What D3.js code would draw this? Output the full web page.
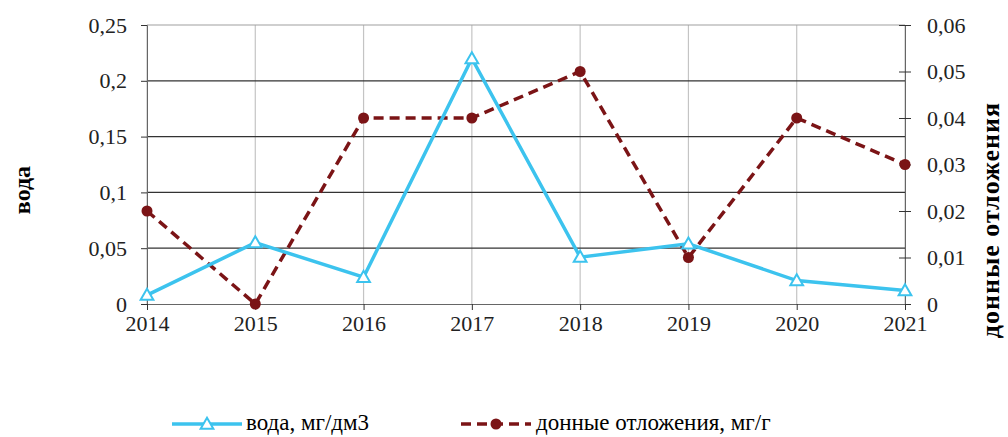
<!DOCTYPE html>
<html>
<head>
<meta charset="utf-8">
<script src="https://cdn.jsdelivr.net/npm/d3@7"></script>
<style>
  body { margin: 0; background: #fff; }
  svg { display: block; }
  svg, svg text { font-family: "Liberation Serif", "Times New Roman", serif; }
</style>
</head>
<body>
<svg id="chart" width="1008" height="437"></svg>
<script>
const years = [2014, 2015, 2016, 2017, 2018, 2019, 2020, 2021];
const water = [0.008, 0.055, 0.024, 0.22, 0.042, 0.054, 0.021, 0.012];
const sediment = [0.02, 0, 0.04, 0.04, 0.05, 0.01, 0.04, 0.03];
const leftTicks = [0, 0.05, 0.1, 0.15, 0.2, 0.25];
const rightTicks = [0, 0.01, 0.02, 0.03, 0.04, 0.05, 0.06];
const waterLabel = 'вода, мг/дм3';
const sedimentLabel = 'донные отложения, мг/г';

const waterColor = '#3cc3ee';
const sedColor = '#7b1416';

const svg = d3.select('#chart');
const m = { left: 147, right: 905, top: 25, bottom: 304 };

const x = d3.scalePoint().domain(years).range([m.left, m.right]);
const yL = d3.scaleLinear().domain([0, 0.25]).range([m.bottom, m.top]);
const yR = d3.scaleLinear().domain([0, 0.06]).range([m.bottom, m.top]);
const fmt = d => d === 0 ? '0' : String(d).replace('.', ',');

// vertical gridlines
svg.append('g').selectAll('line').data(years).join('line')
  .attr('x1', d => x(d)).attr('x2', d => x(d))
  .attr('y1', m.top).attr('y2', m.bottom)
  .attr('stroke', '#c4c4c4').attr('stroke-width', 1.2);

// horizontal gridlines
svg.append('g').selectAll('line').data(leftTicks.slice(1)).join('line')
  .attr('x1', m.left).attr('x2', m.right)
  .attr('y1', d => yL(d)).attr('y2', d => yL(d))
  .attr('stroke', d => d === 0.25 ? '#a0a0a0' : '#333').attr('stroke-width', 1.2);

function styleAxis(g) {
  g.attr('font-family', null).attr('font-size', 22);
  g.select('.domain').attr('stroke', '#666');
  g.selectAll('.tick line').attr('stroke', '#333');
  g.selectAll('text').attr('fill', '#222');
}

// left axis
svg.append('g').attr('transform', `translate(${m.left},0)`)
  .call(d3.axisLeft(yL).tickValues(leftTicks).tickSize(6).tickPadding(14).tickFormat(fmt))
  .call(styleAxis);

// right axis
const gr = svg.append('g').attr('transform', `translate(${m.right},0)`)
  .call(d3.axisRight(yR).tickValues(rightTicks).tickSize(6).tickPadding(16).tickFormat(fmt))
  .call(styleAxis);
gr.selectAll('.tick line').attr('x1', -6);

// bottom axis
svg.append('g').attr('transform', `translate(0,${m.bottom})`)
  .call(d3.axisBottom(x).tickSize(6).tickPadding(5).tickFormat(d => d))
  .call(styleAxis);

// axis titles
svg.append('text').attr('transform', 'translate(30,190) rotate(-90)')
  .attr('text-anchor', 'middle').attr('font-size', 24).attr('font-weight', 'bold')
  .text('вода');
svg.append('text').attr('transform', 'translate(999,220) rotate(-90)')
  .attr('text-anchor', 'middle').attr('font-size', 26).attr('font-weight', 'bold')
  .attr('letter-spacing', 1)
  .text('донные отложения');

// sediment line
svg.append('path').datum(years.map((y, i) => [y, sediment[i]]))
  .attr('fill', 'none').attr('stroke', sedColor).attr('stroke-width', 3.5)
  .attr('stroke-dasharray', '10,6')
  .attr('d', d3.line().x(d => x(d[0])).y(d => yR(d[1])));

// water line
svg.append('path').datum(years.map((y, i) => [y, water[i]]))
  .attr('fill', 'none').attr('stroke', waterColor).attr('stroke-width', 3.5)
  .attr('d', d3.line().x(d => x(d[0])).y(d => yL(d[1])));

const tri = d3.symbol().type(d3.symbolTriangle).size(70);

svg.append('g').selectAll('circle').data(years).join('circle')
  .attr('cx', d => x(d)).attr('cy', (d, i) => yR(sediment[i])).attr('r', 5.5)
  .attr('fill', sedColor);

svg.append('g').selectAll('path').data(years).join('path')
  .attr('d', tri)
  .attr('transform', (d, i) => `translate(${x(d)},${yL(water[i]) + 1})`)
  .attr('fill', '#fff').attr('stroke', waterColor).attr('stroke-width', 2);

// legend
const lg = svg.append('g').attr('font-size', 23);
lg.append('line').attr('x1', 172).attr('x2', 242).attr('y1', 424).attr('y2', 424)
  .attr('stroke', waterColor).attr('stroke-width', 3.5);
lg.append('path').attr('d', tri).attr('transform', 'translate(207,425)')
  .attr('fill', '#fff').attr('stroke', waterColor).attr('stroke-width', 2);
lg.append('text').attr('x', 246).attr('y', 430).text(waterLabel);

lg.append('line').attr('x1', 461).attr('x2', 531).attr('y1', 424).attr('y2', 424)
  .attr('stroke', sedColor).attr('stroke-width', 3.5).attr('stroke-dasharray', '10,6');
lg.append('circle').attr('cx', 496).attr('cy', 424).attr('r', 5.5).attr('fill', sedColor);
lg.append('text').attr('x', 536).attr('y', 430).text(sedimentLabel);
</script>
</body>
</html>
